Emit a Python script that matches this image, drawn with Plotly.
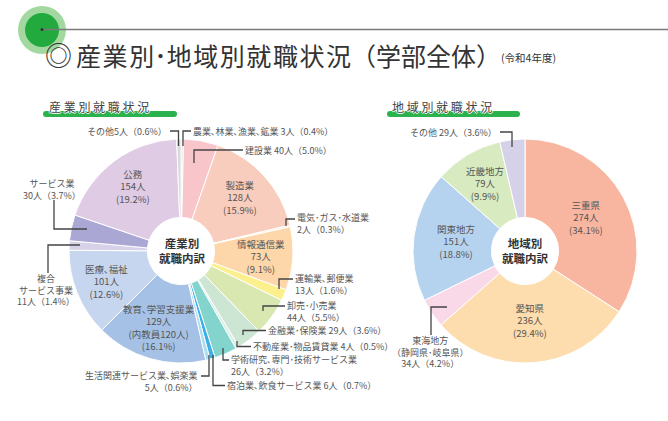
import plotly.graph_objects as go
import math

W, H = 668, 421

# ---------------- data ----------------
ind_labels = ["農業､林業､漁業､鉱業", "建設業", "製造業", "電気･ガス･水道業", "情報通信業",
              "運輸業､郵便業", "卸売･小売業", "金融業･保険業", "不動産業･物品賃貸業",
              "学術研究､専門･技術サービス業", "宿泊業､飲食サービス業", "生活関連サービス業､娯楽業",
              "教育､学習支援業", "医療､福祉", "複合サービス事業", "サービス業", "公務", "その他"]
ind_values = [3, 40, 128, 2, 73, 13, 44, 29, 4, 26, 6, 5, 129, 101, 11, 30, 154, 5]
ind_pcts = [0.4, 5.0, 15.9, 0.3, 9.1, 1.6, 5.5, 3.6, 0.5, 3.2, 0.7, 0.6, 16.1, 12.6, 1.4, 3.7, 19.2, 0.6]
edu_teachers = 120

reg_labels = ["三重県", "愛知県", "東海地方", "関東地方", "近畿地方", "その他"]
reg_values = [274, 236, 34, 151, 79, 29]
reg_pcts = [34.1, 29.4, 4.2, 18.8, 9.9, 3.6]
tokai_sub = "（静岡県･岐阜県）"

title_text = "産業別･地域別就職状況（学部全体）"
year_text = "(令和4年度)"

# ---------------- style ----------------
ind_colors = ["#e6e6e6", "#f8c5cb", "#f9cdbd", "#fbe3d6", "#fdd6a9", "#fcf08c", "#d8e8b0",
              "#cde6d3", "#d9efe6", "#83d4cc", "#3fb0e6", "#a9ddf2", "#a5c2e6", "#c6d6ee",
              "#d7d2ea", "#aba7d5", "#dfcbe4", "#d9d9d9"]
reg_colors = ["#f8b6a1", "#fddcad", "#f9d9e8", "#b5d3ef", "#d8eabf", "#d5d1e8"]

FONT = "Noto Sans CJK JP"
TXT = "#555555"
LEAD = "#444444"

L_CX, L_CY = 181, 251
R_CX, R_CY = 525, 251
RAD = 112
HOLE = 0.30


def px(x):
    return x / W


def py(y):
    return 1 - y / H


def dom(cx, cy, r):
    return dict(x=[px(cx - r), px(cx + r)], y=[py(cy + r), py(cy - r)])


fig = go.Figure()
fig.add_trace(go.Pie(values=ind_values, labels=ind_labels, sort=False, direction="clockwise",
                     rotation=0, hole=HOLE, textinfo="none", showlegend=False,
                     marker=dict(colors=ind_colors, line=dict(color="white", width=1)),
                     domain=dom(L_CX, L_CY, RAD)))
fig.add_trace(go.Pie(values=reg_values, labels=reg_labels, sort=False, direction="clockwise",
                     rotation=0, hole=HOLE, textinfo="none", showlegend=False,
                     marker=dict(colors=reg_colors, line=dict(color="white", width=1)),
                     domain=dom(R_CX, R_CY, RAD)))


def mids(values):
    tot = sum(values)
    c = 0
    out = []
    for v in values:
        out.append(360 * (c + v / 2) / tot)
        c += v
    return out


ann = []
shapes = []


def text(x, y, t, size=9, xanchor="center", align="center", color=TXT, yanchor="middle", shadow=None):
    f = dict(family=FONT, size=size, color=color)
    if shadow:
        f["shadow"] = shadow
    ann.append(dict(x=px(x), y=py(y), xref="paper", yref="paper", text=t, showarrow=False,
                    xanchor=xanchor, yanchor=yanchor, align=align, font=f, borderpad=0))


def lead(pts):
    d = "M " + " L ".join(f"{px(a):.5f},{py(b):.5f}" for a, b in pts)
    shapes.append(dict(type="path", path=d, xref="paper", yref="paper",
                       line=dict(color=LEAD, width=1.3)))


# inner labels, left
lm = mids(ind_values)
for i in [2, 4, 12, 13, 16]:
    a = math.radians(lm[i])
    r = 80
    x = L_CX + r * math.sin(a)
    y = L_CY - r * math.cos(a)
    t = f"{ind_labels[i]}<br>{ind_values[i]}人<br>({ind_pcts[i]}%)"
    if i == 12:
        t = f"{ind_labels[i]}<br>{ind_values[i]}人<br>(内教員{edu_teachers}人)<br>({ind_pcts[i]}%)"
    text(x, y, t, size=9.5)

# inner labels, right
rm = mids(reg_values)
for i, r in [(0, 70), (1, 70), (3, 70), (4, 78)]:
    a = math.radians(rm[i])
    x = R_CX + r * math.sin(a)
    y = R_CY - r * math.cos(a)
    text(x, y, f"{reg_labels[i]}<br>{reg_values[i]}人<br>({reg_pcts[i]}%)", size=9.5)


def lab(i):
    return ind_labels[i], ind_values[i], ind_pcts[i]


# outside labels, left
n, v, p = lab(17)
text(168, 132, f"{n}{v}人（{p}%）", xanchor="right")
lead([(170, 131), (178.5, 131), (178.5, 146)])
n, v, p = lab(0)
text(192, 132, f"{n} {v}人（{p}%）", xanchor="left")
lead([(191, 131), (183, 131), (183, 146)])
n, v, p = lab(1)
text(244, 150, f"{n} {v}人（{p}%）", xanchor="left")
lead([(243, 150), (194, 150), (194, 163)])
n, v, p = lab(3)
text(296, 223, f"{n}<br>{v}人（{p}%）", xanchor="left", align="left")
lead([(295, 219), (286, 219), (286, 226)])
n, v, p = lab(5)
text(294, 284, f"{n}<br>{v}人（{p}%）", xanchor="left", align="left")
lead([(293, 279), (279, 279), (279, 289)])
n, v, p = lab(6)
text(286, 311, f"{n}<br>{v}人（{p}%）", xanchor="left", align="left")
lead([(285, 306), (263, 306), (263, 311)])
n, v, p = lab(7)
text(267, 330.5, f"{n} {v}人（{p}%）", xanchor="left")
lead([(266, 330.5), (243, 330.5), (243, 335)])
n, v, p = lab(8)
text(252, 346.5, f"{n} {v}人（{p}%）", xanchor="left")
lead([(251, 346.5), (237, 346.5), (237, 341)])
n, v, p = lab(9)
text(230, 365, f"{n}<br>{v}人（{p}%）", xanchor="left", align="left")
lead([(223, 348), (223, 360), (229, 360)])
n, v, p = lab(10)
text(226, 385.5, f"{n} {v}人（{p}%）", xanchor="left")
lead([(213, 355), (213, 385.5), (225, 385.5)])
n, v, p = lab(11)
text(199, 381.5, f"{n}<br>{v}人（{p}%）", xanchor="right", align="right")
lead([(201, 376), (209, 376), (209, 355)])
n, v, p = lab(14)
text(46, 290, f"複合<br>{n[2:]}<br>{v}人（{p}%）")
lead([(48, 273), (48, 245), (80, 245)])
n, v, p = lab(15)
text(52, 190, f"{n}<br>{v}人（{p}%）")
lead([(54, 200), (54, 229), (87, 229)])

# outside labels, right
text(498, 133, f"{reg_labels[5]} {reg_values[5]}人（{reg_pcts[5]}%）", xanchor="right")
lead([(500, 132), (512, 132), (512, 147)])
text(430, 352, f"{reg_labels[2]}<br>{tokai_sub}<br>{reg_values[2]}人（{reg_pcts[2]}%）")
lead([(431, 335), (431, 307), (447, 307)])

# center labels
text(L_CX + 1, 250, "<b>産業別<br>就職内訳</b>", size=11.5, color="#333333")
text(R_CX, 250, "<b>地域別<br>就職内訳</b>", size=11.5, color="#333333")

# section headers with green bars
GREEN = "#2bb24c"


def bar(x0, x1, y0, y1):
    r = (y1 - y0) / 2
    pts = (f"M {px(x0 + r)},{py(y0)} L {px(x1 - r)},{py(y0)} Q {px(x1)},{py(y0)} {px(x1)},{py(y0 + r)} "
           f"Q {px(x1)},{py(y1)} {px(x1 - r)},{py(y1)} L {px(x0 + r)},{py(y1)} "
           f"Q {px(x0)},{py(y1)} {px(x0)},{py(y0 + r)} Q {px(x0)},{py(y0)} {px(x0 + r)},{py(y0)} Z")
    shapes.append(dict(type="path", path=pts, xref="paper", yref="paper", fillcolor=GREEN,
                       line=dict(width=0), layer="below"))


bar(43, 177, 111, 117)
bar(387, 520, 111, 117)
sh = "1px 0 0 #fff, -1px 0 0 #fff, 0 1px 0 #fff, 0 -1px 0 #fff"
text(99, 107, "産 業 別 就 職 状 況", size=12, color="#444444", shadow=sh)
text(442, 107, "地 域 別 就 職 状 況", size=12, color="#444444", shadow=sh)

# title decoration
shapes.append(dict(type="circle", xref="paper", yref="paper", x0=px(18), x1=px(66), y0=py(54), y1=py(6),
                   fillcolor="#a3d9a0", line=dict(width=0), layer="below"))
shapes.append(dict(type="circle", xref="paper", yref="paper", x0=px(25), x1=px(59), y0=py(47), y1=py(13),
                   fillcolor="#22aa3f", line=dict(width=0), layer="below"))
shapes.append(dict(type="line", xref="paper", yref="paper", x0=px(42), x1=px(668), y0=py(29.5), y1=py(29.5),
                   line=dict(color="#7a7a7a", width=1.5)))
shapes.append(dict(type="circle", xref="paper", yref="paper", x0=px(40.5), x1=px(43.5), y0=py(31), y1=py(28),
                   fillcolor="#333333", line=dict(width=0)))

HS = "\u200a"
title_spaced = ""
for k, ch in enumerate(title_text):
    title_spaced += ch
    if k < len(title_text) - 1:
        nxt = title_text[k + 1]
        if ch not in "･（）学部全" and nxt not in "･（）":
            title_spaced += HS

text(58, 55, "◎", size=27, color="#333333")
text(75, 55, title_spaced, size=25, xanchor="left", color="#333333")
text(500, 57, year_text, size=10.5, xanchor="left", color="#333333")

fig.update_layout(width=W, height=H, margin=dict(l=0, r=0, t=0, b=0),
                  paper_bgcolor="white", plot_bgcolor="white",
                  annotations=ann, shapes=shapes, showlegend=False,
                  font=dict(family=FONT))

fig.write_html("out.html", config={"displayModeBar": False},
               post_script="document.body.style.margin='0';")
